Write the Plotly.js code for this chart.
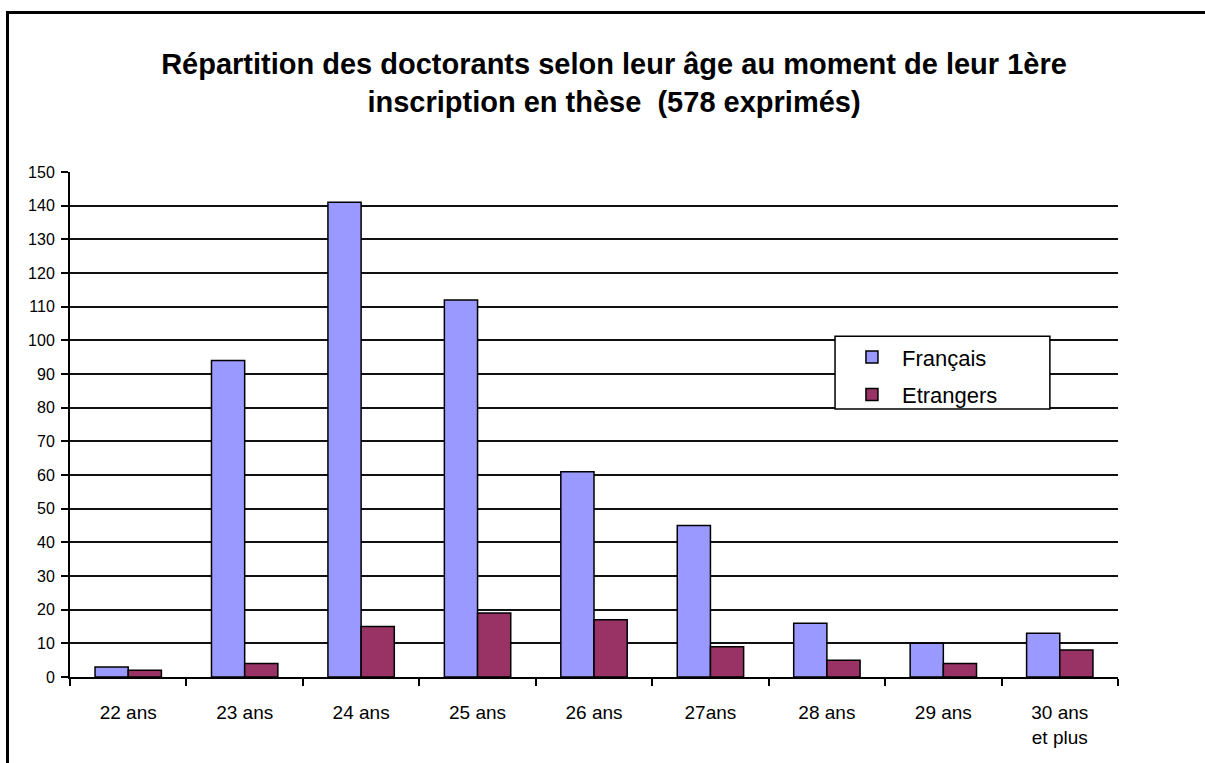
<!DOCTYPE html>
<html>
<head>
<meta charset="utf-8">
<script src="https://cdn.plot.ly/plotly-3.0.1.min.js"></script>
<style>
  html, body { margin: 0; padding: 0; background: #fff; overflow: hidden; }
  #chart { position: absolute; left: 0; top: 0; width: 1205px; height: 763px; }
  #frame { position: absolute; left: 6px; top: 11px; width: 1400px; height: 1000px;
           border-left: 3px solid #000; border-top: 3px solid #000; pointer-events: none; }
</style>
</head>
<body>
<div id="chart"></div>
<div id="frame"></div>
<script>
const categories = ["22 ans", "23 ans", "24 ans", "25 ans", "26 ans", "27ans", "28 ans", "29 ans", "30 ans<br>et plus"];
const francais = [3, 94, 141, 112, 61, 45, 16, 10, 13];
const etrangers = [2, 4, 15, 19, 17, 9, 5, 4, 8];
const seriesNames = ["Français", "Etrangers"];
const chartTitle = "Répartition des doctorants selon leur âge au moment de leur 1ère<br>inscription en thèse  (578 exprimés)";

const FONT = "Liberation Sans, Arial, sans-serif";

const traces = [
  {
    type: "bar", name: seriesNames[0], x: categories, y: francais,
    marker: { color: "#9999FF", line: { color: "#000", width: 1.5 } },
    legendgroup: "a"
  },
  {
    type: "bar", name: seriesNames[1], x: categories, y: etrangers,
    marker: { color: "#993366", line: { color: "#000", width: 1.5 } },
    legendgroup: "b"
  }
];

const layout = {
  width: 1205, height: 763,
  paper_bgcolor: "#fff", plot_bgcolor: "#fff",
  font: { family: FONT, color: "#000" },
  margin: { l: 70, r: 87, t: 172, b: 86 },
  title: {
    text: chartTitle,
    font: { family: FONT, size: 29, color: "#000", weight: "bold" },
    x: 614 / 1205, xref: "container", xanchor: "center",
    y: 1 - 74 / 763, yref: "container", yanchor: "top"
  },
  barmode: "group", bargap: 0.43, bargroupgap: 0,
  showlegend: true,
  legend: {
    x: 0.7366, y: 0.675, xanchor: "left", yanchor: "top",
    bgcolor: "rgba(0,0,0,0)", borderwidth: 0,
    font: { family: FONT, size: 22, color: "#000" },
    traceorder: "grouped", tracegroupgap: 6, itemwidth: 50
  },
  shapes: [
    {
      type: "rect", xref: "paper", yref: "paper",
      x0: 0.73, x1: 0.935, y0: 0.5307, y1: 0.675,
      fillcolor: "#fff", line: { color: "#000", width: 1.5 }, layer: "above"
    }
  ],
  xaxis: {
    type: "category", tickson: "boundaries",
    ticks: "outside", ticklen: 7, tickwidth: 2, tickcolor: "#000",
    showline: true, linecolor: "#000", linewidth: 2,
    showgrid: false, zeroline: false,
    tickfont: { family: FONT, size: 19, color: "#000" },
    ticklabelstandoff: 17
  },
  yaxis: {
    range: [0, 150], dtick: 10, tick0: 0,
    ticks: "outside", ticklen: 7, tickwidth: 2, tickcolor: "#000",
    showline: true, linecolor: "#000", linewidth: 2,
    showgrid: true, gridcolor: "#111", gridwidth: 2, zeroline: false,
    tickfont: { family: FONT, size: 16, color: "#000" },
    ticklabelstandoff: 3
  }
};

Plotly.newPlot("chart", traces, layout, { displayModeBar: false, staticPlot: true });
</script>
</body>
</html>
